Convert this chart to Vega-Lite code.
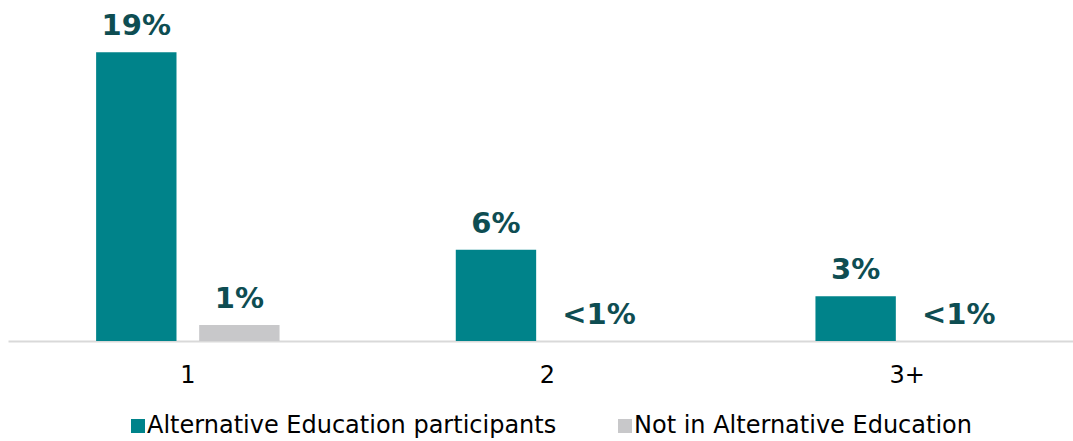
{
  "$schema": "https://vega.github.io/schema/vega-lite/v6.json",
  "width": 1079,
  "height": 341,
  "autosize": {"type": "none"},
  "padding": {"left": 8, "top": 0, "right": 0, "bottom": 100},
  "background": "white",
  "config": {"view": {"stroke": null}, "font": "DejaVu Sans"},
  "data": {"values": [
    {"count": "1", "group": "Alternative Education participants", "value": 19, "label": "19%"},
    {"count": "1", "group": "Not in Alternative Education", "value": 1.05, "label": "1%"},
    {"count": "2", "group": "Alternative Education participants", "value": 6, "label": "6%"},
    {"count": "2", "group": "Not in Alternative Education", "value": 0, "label": "<1%"},
    {"count": "3+", "group": "Alternative Education participants", "value": 2.95, "label": "3%"},
    {"count": "3+", "group": "Not in Alternative Education", "value": 0, "label": "<1%"}
  ]},
  "encoding": {
    "x": {"field": "count", "type": "nominal", "sort": ["1", "2", "3+"],
      "scale": {"paddingInner": 0.49, "paddingOuter": 0.245},
      "axis": {"title": null, "labelAngle": 0, "ticks": false, "domainColor": "#d9d9d9", "domainWidth": 2,
        "labelFontSize": 24, "labelColor": "#000000", "labelPadding": 22, "labelFont": "DejaVu Sans"}},
    "xOffset": {"field": "group", "type": "nominal", "scale": {"paddingInner": 0.22, "paddingOuter": 0},
      "sort": ["Alternative Education participants", "Not in Alternative Education"]},
    "y": {"field": "value", "type": "quantitative", "scale": {"domain": [0, 22.43], "nice": false},
      "axis": null}
  },
  "layer": [
    {"mark": {"type": "bar", "clip": false},
      "encoding": {
        "color": {"field": "group", "type": "nominal",
          "sort": ["Alternative Education participants", "Not in Alternative Education"],
          "scale": {"domain": ["Alternative Education participants", "Not in Alternative Education"], "range": ["#00838a", "#c8c8ca"]},
          "legend": {"title": null, "orient": "none", "legendX": 118, "legendY": 414, "direction": "horizontal",
            "symbolType": "square", "symbolSize": 196, "symbolStrokeWidth": 0, "labelFontSize": 24, "labelLimit": 0,
            "labelColor": "#000000", "labelFont": "DejaVu Sans", "columnPadding": 56, "labelOffset": -3}}
      }},
    {"mark": {"type": "text", "baseline": "alphabetic", "dy": -17, "fontSize": 29, "fontWeight": "bold",
      "color": "#0e4d52", "font": "DejaVu Sans"},
      "encoding": {"text": {"field": "label"}}}
  ]
}
